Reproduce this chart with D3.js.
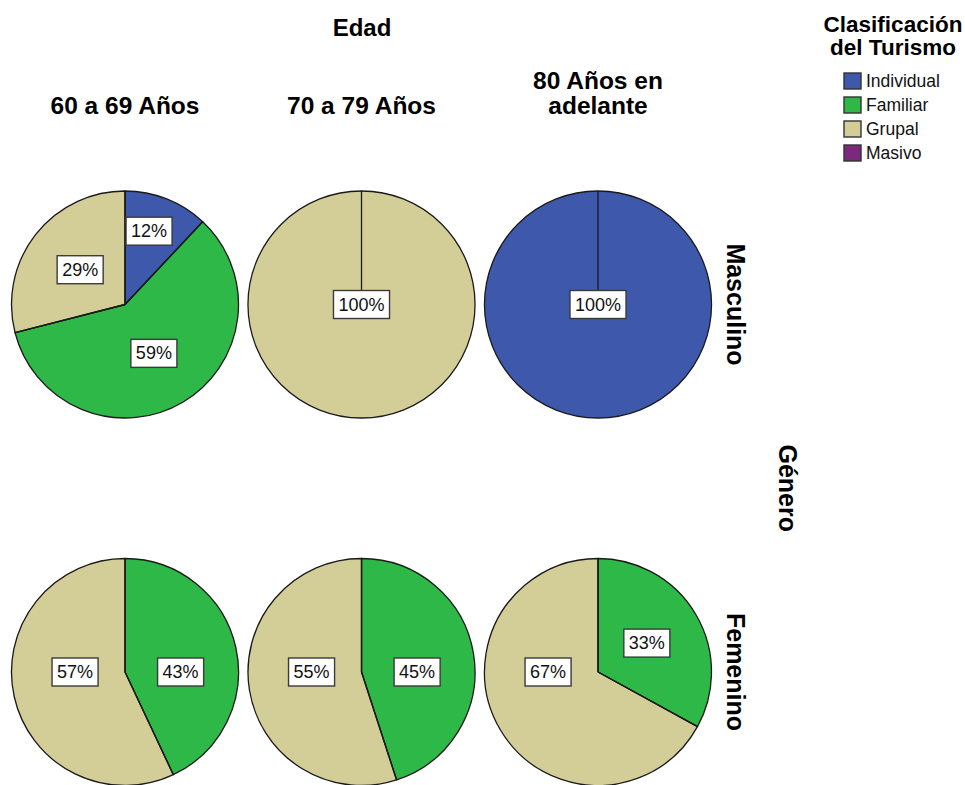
<!DOCTYPE html>
<html>
<head>
<meta charset="utf-8">
<script src="https://cdn.jsdelivr.net/npm/d3@7"></script>
<style>
  html, body { margin: 0; padding: 0; background: #ffffff; }
  svg { display: block; font-family: "Liberation Sans", Arial, sans-serif; }
</style>
</head>
<body>
<svg id="chart" width="965" height="785"></svg>
<script>
// Categories and series
const edades = ["60 a 69 Años", "70 a 79 Años", "80 Años en adelante"];
const edadLineas = [["60 a 69 Años"], ["70 a 79 Años"], ["80 Años en", "adelante"]];
const generos = ["Masculino", "Femenino"];
const categorias = ["Individual", "Familiar", "Grupal", "Masivo"];
const colores = ["#3e58ac", "#2eb848", "#d3ce97", "#7c287d"];
// Percent per category (Individual, Familiar, Grupal, Masivo) for each age group
const masculino = [[12, 59, 29, 0], [0, 0, 100, 0], [100, 0, 0, 0]];
const femenino  = [[0, 43, 57, 0], [0, 45, 55, 0], [0, 33, 67, 0]];
const valores = { "Masculino": masculino, "Femenino": femenino };

const svg = d3.select("#chart");
const x = d3.scalePoint().domain(edades).range([125, 598]);
const y = d3.scalePoint().domain(generos).range([304.5, 672]);
const color = d3.scaleOrdinal().domain(categorias).range(colores);
const R = 113.5;

const pie = d3.pie().sort(null).value(d => d.v);
const arc = d3.arc().innerRadius(0).outerRadius(R);

// Column header and titles
svg.append("text").attr("x", 362).attr("y", 36).attr("text-anchor", "middle")
  .attr("font-weight", "bold").attr("font-size", 24).text("Edad");

edades.forEach((e, i) => {
  const lines = edadLineas[i];
  lines.forEach((l, j) => {
    svg.append("text")
      .attr("x", x(e))
      .attr("y", 114 - (lines.length - 1 - j) * 25)
      .attr("text-anchor", "middle")
      .attr("font-weight", "bold").attr("font-size", 24.5)
      .text(l);
  });
});

generos.forEach(g => {
  svg.append("text")
    .attr("transform", `translate(736,${y(g)}) rotate(90)`)
    .attr("text-anchor", "middle").attr("dominant-baseline", "central")
    .attr("font-weight", "bold").attr("font-size", 25)
    .text(g);
});
svg.append("text")
  .attr("transform", `translate(788,${(y("Masculino") + y("Femenino")) / 2}) rotate(90)`)
  .attr("text-anchor", "middle").attr("dominant-baseline", "central")
  .attr("font-weight", "bold").attr("font-size", 25)
  .text("Género");

// Label anchor: centroid-like point, pulled to the horizontal when the slice
// straddles it, pushed outward for thin slices
function labelPos(d, n) {
  if (n === 1) return [0, 0];
  const span = d.endAngle - d.startAngle;
  let ang = (d.startAngle + d.endAngle) / 2;
  let dist = 0.5 * R;
  const near = (a, b) => Math.abs(a - b) < Math.PI / 12;
  const containsRight = d.startAngle <= 1e-6 && d.endAngle >= Math.PI - 1e-6;
  const containsLeft = d.startAngle <= Math.PI + 1e-6 && d.endAngle >= 2 * Math.PI - 1e-6;
  if (containsLeft) { ang = 1.5 * Math.PI; dist = 0.44 * R; }
  else if (containsRight) { ang = 0.5 * Math.PI; dist = 0.44 * R; }
  else if (near(ang, 0.5 * Math.PI)) { ang = 0.5 * Math.PI; dist = 0.49 * R; }
  else if (near(ang, 1.5 * Math.PI)) { ang = 1.5 * Math.PI; dist = 0.49 * R; }
  else if (span < 0.2 * 2 * Math.PI) { dist = 0.68 * R; ang -= 0.06; }
  return [dist * Math.sin(ang), -dist * Math.cos(ang)];
}

generos.forEach(g => {
  edades.forEach((e, i) => {
    const data = categorias.map((c, k) => ({ c, v: valores[g][i][k] }));
    const arcs = pie(data).filter(d => d.data.v > 0);
    const grp = svg.append("g").attr("transform", `translate(${x(e)},${y(g)})`);

    grp.selectAll("path.slice").data(arcs).join("path")
      .attr("class", "slice")
      .attr("d", arc)
      .attr("fill", d => color(d.data.c))
      .attr("stroke", "#1a1a1a").attr("stroke-width", 1.3)
      .attr("stroke-linejoin", "round");

    // slice boundary lines (also shows the seam on a full circle)
    grp.selectAll("line.edge").data(arcs).join("line")
      .attr("class", "edge")
      .attr("x1", 0).attr("y1", 0)
      .attr("x2", d => R * Math.sin(d.startAngle))
      .attr("y2", d => -R * Math.cos(d.startAngle))
      .attr("stroke", "#1a1a1a").attr("stroke-width", 1.3);

    const labels = grp.selectAll("g.lab").data(arcs).join("g")
      .attr("class", "lab")
      .attr("transform", d => `translate(${labelPos(d, arcs.length)})`);
    labels.each(function (d) {
      const gl = d3.select(this);
      const rect = gl.append("rect");
      const t = gl.append("text")
        .attr("text-anchor", "middle").attr("dominant-baseline", "central")
        .attr("font-size", 18).attr("fill", "#111")
        .text(d3.format(".0f")(d.data.v) + "%");
      const w = t.node().getComputedTextLength() + 10;
      const h = 28;
      rect.attr("x", -w / 2).attr("y", -h / 2).attr("width", w).attr("height", h)
        .attr("fill", "#ffffff").attr("stroke", "#3a3a3a").attr("stroke-width", 1.4);
    });
  });
});

// Legend
const legend = svg.append("g");
["Clasificación", "del Turismo"].forEach((l, j) => {
  legend.append("text").attr("x", 893).attr("y", 32 + j * 23)
    .attr("text-anchor", "middle").attr("font-weight", "bold").attr("font-size", 22.5)
    .text(l);
});
const ly = d3.scalePoint().domain(categorias).range([81, 153]);
categorias.forEach(c => {
  legend.append("rect")
    .attr("x", 844).attr("y", ly(c) - 8).attr("width", 17).attr("height", 16)
    .attr("fill", color(c)).attr("stroke", "#333").attr("stroke-width", 1.4);
  legend.append("text")
    .attr("x", 866).attr("y", ly(c)).attr("dominant-baseline", "central")
    .attr("font-size", 17.5).attr("fill", "#111")
    .text(c);
});
</script>
</body>
</html>
